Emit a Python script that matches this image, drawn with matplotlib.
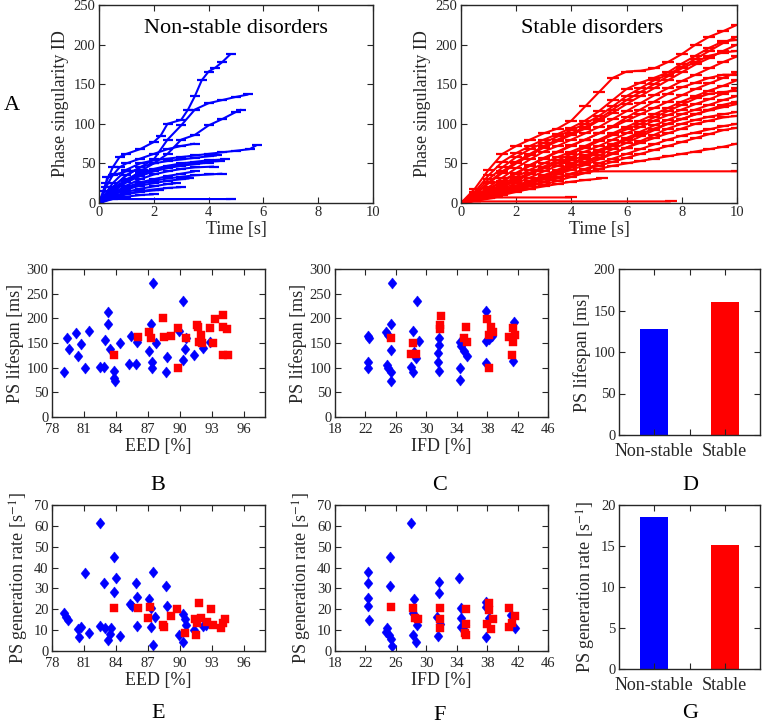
import numpy as np
import matplotlib.pyplot as plt

plt.rcParams['font.family'] = ['Liberation Serif', 'DejaVu Serif']
plt.rcParams['mathtext.fontset'] = 'stix'

BLUE = (0, 0, 1)
RED = (1, 0, 0)
FRAME = '#262626'

# ---- panel A : phase singularity ID vs time (one jagged track per run) ----
ns_t = [
    [0, 0.25, 0.5, 0.75, 1, 1.5, 2, 2.25, 2.5, 3, 3.25, 3.5, 3.75, 4, 4.25, 4.5, 4.8],
    [0, 0.5, 1, 1.5, 2, 2.5, 3, 3.5, 4, 4.5, 5, 5.45],
    [0, 0.5, 1, 1.5, 2, 2.5, 3, 3.5, 4, 4.5, 5, 5.2],
    [0, 0.5, 1, 1.5, 2, 2.5, 3, 3.5, 4, 4.5, 5, 5.5, 5.75],
    [0, 0.5, 1, 1.5, 2, 2.5, 3, 3.5, 4, 4.3],
    [0, 0.5, 1, 1.5, 2, 2.5, 3, 3.5, 4, 4.6],
    [0, 0.5, 1, 1.5, 2, 2.5, 3, 3.5, 4.2],
    [0, 0.5, 1, 1.5, 2, 2.5, 3, 3.5, 4, 4.5],
    [0, 0.5, 1, 1.5, 2, 2.5, 3, 3.3],
    [0, 0.5, 1, 1.5, 2, 2.5, 2.8],
    [0, 0.5, 1, 1.5, 2, 2.2],
    [0, 0.3, 4.8],
    [0, 0.5, 1, 1.5, 2, 2.5, 3],
    [0, 0.25, 0.5, 0.75, 1, 1.5, 2, 2.5, 3, 3.5],
    [0, 0.2, 0.3, 0.6, 1.0, 1.6],
    [0, 0.5, 1, 1.5, 2, 2.5, 3, 3.5, 4],
    [0, 0.5, 1, 1.5, 2],
    [0, 0.5, 1, 1.5, 2, 2.5, 3, 3.5],
    [0, 0.5, 1, 1.5, 2, 2.5, 3, 3.5, 4, 4.4],
]
ns_id = [
    [0, 25, 45, 58, 62, 68, 77, 85, 100, 105, 118, 135, 155, 166, 171, 178, 188],
    [0, 20, 35, 45, 55, 80, 98, 118, 126, 130, 134, 137],
    [0, 15, 28, 40, 50, 62, 80, 86, 98, 106, 115, 118],
    [0, 25, 42, 50, 54, 56, 58, 60, 62, 64, 66, 68, 73],
    [0, 20, 35, 45, 50, 53, 55, 57, 59, 60],
    [0, 18, 30, 38, 43, 47, 50, 52, 54, 55],
    [0, 12, 22, 30, 36, 40, 43, 45, 46],
    [0, 10, 18, 24, 28, 31, 33, 35, 36, 37],
    [0, 10, 17, 22, 25, 28, 30, 31],
    [0, 8, 14, 18, 21, 24, 25],
    [0, 6, 11, 14, 16, 17],
    [0, 5, 5],
    [0, 7, 12, 15, 17, 19, 20],
    [0, 20, 35, 45, 50, 56, 62, 68, 72, 75],
    [0, 15, 33, 36, 40, 42],
    [0, 14, 26, 34, 40, 44, 47, 49, 51],
    [0, 5, 8, 10, 11],
    [0, 12, 20, 26, 30, 34, 37, 40],
    [0, 16, 28, 36, 42, 46, 48, 50, 52, 53],
]

st_grid = [0, 0.5, 1, 1.5, 2, 2.5, 3, 3.5, 4, 4.5, 5, 5.5, 6, 6.5, 7, 7.5, 8, 8.5, 9, 9.5, 10]
st_grid_id = [
    [0, 18, 42, 62, 72, 80, 88, 94, 104, 122, 140, 158, 166, 167, 170, 178, 188, 200, 210, 217, 225],
    [0, 14, 35, 52, 63, 72, 80, 87, 95, 104, 116, 130, 144, 152, 158, 165, 176, 186, 196, 204, 206],
    [0, 12, 30, 45, 58, 68, 76, 84, 92, 100, 110, 122, 135, 145, 155, 162, 172, 182, 192, 202, 210],
    [0, 10, 25, 38, 50, 60, 70, 78, 86, 94, 104, 114, 125, 135, 145, 155, 165, 175, 183, 192, 200],
    [0, 10, 26, 40, 52, 62, 72, 80, 88, 96, 106, 118, 130, 140, 150, 160, 170, 178, 186, 190, 192],
    [0, 8, 20, 32, 44, 55, 65, 72, 80, 88, 96, 106, 116, 126, 136, 145, 154, 162, 170, 178, 185],
    [0, 8, 18, 28, 38, 48, 57, 65, 73, 80, 88, 96, 104, 112, 120, 128, 136, 144, 151, 158, 165],
    [0, 7, 17, 27, 37, 47, 56, 64, 72, 80, 88, 97, 108, 118, 128, 138, 146, 152, 158, 162, 162],
    [0, 6, 15, 24, 33, 42, 50, 58, 65, 72, 80, 88, 96, 104, 112, 120, 128, 135, 142, 148, 155],
    [0, 5, 12, 20, 28, 36, 44, 51, 58, 65, 72, 80, 88, 96, 104, 111, 118, 125, 131, 138, 145],
    [0, 6, 14, 22, 30, 38, 46, 54, 62, 70, 78, 86, 93, 100, 108, 116, 124, 132, 138, 140, 142],
    [0, 5, 10, 16, 22, 28, 35, 42, 50, 58, 66, 74, 82, 90, 98, 105, 112, 118, 124, 130, 135],
    [0, 5, 11, 18, 25, 32, 40, 47, 54, 60, 67, 74, 80, 87, 94, 100, 106, 112, 118, 124, 128],
    [0, 4, 9, 14, 20, 26, 32, 38, 45, 52, 60, 68, 76, 84, 92, 100, 106, 112, 117, 121, 125],
    [0, 3, 8, 13, 18, 24, 30, 36, 42, 48, 55, 62, 70, 78, 86, 94, 100, 105, 109, 112, 115],
    [0, 4, 9, 15, 21, 27, 33, 39, 45, 51, 57, 63, 70, 76, 82, 88, 94, 100, 104, 108, 110],
    [0, 3, 7, 11, 16, 21, 26, 31, 37, 43, 50, 56, 62, 68, 74, 80, 85, 89, 93, 97, 100],
    [0, 3, 7, 12, 17, 22, 27, 32, 37, 42, 47, 52, 57, 62, 67, 72, 77, 82, 87, 92, 95],
    [0, 3, 6, 10, 14, 18, 23, 28, 33, 38, 43, 47, 50, 53, 56, 59, 62, 65, 68, 71, 75],
]
st_t = [
    [0, 0.5, 1, 1.5, 2, 2.5, 3, 3.5, 4, 4.5, 4.8, 10],
    [0, 0.5, 1, 1.5, 2, 2.5, 3, 3.5, 4, 4.5, 5.1],
    [0, 1.3, 4],
    [0, 0.1, 7.6],
    [0, 0.5, 1, 1.5, 2, 2.5, 3, 3.5, 4, 4.5, 5, 5.5, 6],
    [0, 0.5, 1, 1.5, 2, 2.5, 3, 3.5, 4],
]
st_id = [
    [0, 5, 10, 15, 20, 25, 30, 33, 36, 38, 40, 40],
    [0, 4, 8, 12, 15, 18, 21, 24, 27, 29, 31],
    [0, 7, 7],
    [0, 2, 2],
    [0, 4, 10, 16, 22, 28, 34, 40, 48, 56, 64, 72, 80],
    [0, 6, 14, 22, 30, 38, 44, 50, 55],
]

# ---- panels B-G ----
b_eed_ns = [79.1, 79.4, 79.6, 80.3, 80.4, 80.7, 81.1, 81.5, 82.5, 82.9, 83.0, 83.3, 83.3,
            83.4, 83.8, 83.9, 83.8, 84.4, 85.2, 85.4, 85.9, 86.0, 87.3, 87.1, 87.5, 87.4,
            87.4, 87.8, 88.8, 88.7, 89.9, 90.3, 90.5, 90.3, 90.6, 91.3, 92.2, 92.8]
b_life_ns = [92, 161, 137, 170, 124, 148, 99, 174, 102, 102, 156, 212, 189,
             138, 93, 72, 80, 149, 108, 164, 108, 153, 189, 134, 271, 112,
             99, 149, 122, 92, 174, 235, 137, 116, 161, 126, 139, 153]
b_eed_s = [83.8, 86.1, 87.1, 87.3, 88.4, 88.5, 89.2, 89.8, 89.8, 90.6, 91.6, 91.7,
           92.0, 91.8, 92.1, 92.8, 93.1, 93.3, 94.1, 94.1, 94.4, 94.1, 94.5]
b_life_s = [126, 163, 173, 161, 200, 163, 165, 180, 99, 161, 187, 183,
            166, 153, 151, 180, 151, 198, 207, 183, 178, 126, 126]

c_ifd_ns = [22.3, 22.5, 22.3, 22.3, 24.7, 25.0, 25.4, 25.5, 25.3, 24.8, 25.0, 25.3, 25.3,
            28.2, 28.8, 29.0, 28.4, 28.7, 28.0, 28.2, 31.7, 31.7, 31.5, 31.5, 31.7,
            34.4, 34.6, 34.9, 35.3, 34.4, 34.4, 37.8, 37.8, 38.3, 38.7, 37.9, 41.5, 41.4]
c_life_ns = [165, 160, 112, 99, 173, 166, 189, 271, 136, 105, 99, 91, 72,
             175, 236, 154, 131, 120, 102, 91, 160, 146, 129, 112, 93,
             153, 143, 134, 124, 99, 74, 214, 154, 158, 165, 109, 193, 114]
c_ifd_s = [25.3, 28.2, 28.0, 28.7, 31.9, 31.8, 31.8, 35.2, 35.3, 34.9, 38.0, 38.5,
           38.8, 38.3, 38.3, 40.9, 41.4, 41.6, 41.4, 41.3]
c_life_s = [160, 151, 127, 127, 205, 187, 178, 182, 153, 161, 199, 183,
            173, 166, 99, 163, 180, 166, 153, 126]

e_eed_ns = [79.1, 79.3, 79.5, 80.4, 80.5, 80.7, 81.1, 81.5, 82.5, 82.5, 82.9, 83.0, 83.3,
            83.4, 83.5, 83.8, 83.8, 84.0, 84.4, 85.3, 85.5, 85.9, 86.0, 86.0, 87.1, 87.3,
            87.3, 87.5, 87.5, 87.7, 88.7, 88.8, 89.9, 90.3, 90.3, 90.5, 90.6, 91.3, 92.2, 92.5]
e_rate_ns = [18.4, 16.5, 14.9, 10.4, 6.9, 11.7, 37.2, 8.5, 61.5, 12.0, 32.4, 10.9, 5.3,
             8.0, 10.9, 45.2, 28.4, 35.1, 7.2, 22.5, 21.6, 32.4, 25.7, 12.0, 24.8, 20.5,
             11.3, 37.7, 2.9, 16.5, 31.2, 21.6, 7.7, 17.6, 4.5, 15.2, 12.5, 10.1, 12.0, 12.5]
e_eed_s = [83.8, 86.1, 87.0, 87.2, 88.4, 88.5, 89.2, 89.7, 90.5, 91.4, 91.5, 91.8,
           91.6, 92.0, 92.6, 92.9, 93.1, 93.9, 94.2, 94.1]
e_rate_s = [20.5, 20.5, 15.8, 20.9, 12.5, 11.3, 16.8, 20.0, 8.5, 15.2, 7.7, 22.9,
            13.3, 15.7, 14.1, 20.1, 12.5, 10.9, 15.2, 13.3]

f_ifd_ns = [22.3, 22.3, 22.4, 22.3, 22.5, 25.2, 25.2, 24.8, 24.7, 25.1, 25.4, 25.5,
            28.0, 28.4, 28.2, 28.8, 28.3, 28.6, 31.7, 31.7, 31.4, 31.8, 31.5,
            34.3, 34.5, 34.5, 34.5, 35.1, 37.8, 37.8, 37.8, 38.3, 41.2, 41.6]
f_rate_ns = [37.7, 32.4, 25.6, 21.6, 14.9, 45.2, 31.2, 10.9, 9.3, 7.7, 5.6, 2.4,
             61.5, 24.8, 18.4, 12.5, 7.7, 4.5, 32.9, 28.0, 16.5, 12.9, 7.2,
             35.2, 20.5, 15.7, 11.7, 12.5, 23.7, 21.3, 6.9, 15.7, 17.3, 10.9]
f_ifd_s = [25.3, 28.2, 28.5, 28.9, 31.8, 31.8, 31.8, 35.2, 35.2, 35.1, 35.2, 38.3,
           38.3, 38.8, 38.0, 38.5, 40.9, 41.6, 41.3, 40.9]
f_rate_s = [20.9, 20.5, 15.7, 15.2, 20.5, 15.3, 10.9, 20.1, 12.9, 8.8, 7.7, 22.9,
            19.6, 15.2, 12.9, 10.4, 20.5, 16.8, 13.6, 11.7]

groups = ['Non-stable', 'Stable']
mean_life = [128, 160]
mean_rate = [18.5, 15.1]

W, H = 762, 728
fig = plt.figure(figsize=(W / 100, H / 100), dpi=100)


def box(l, r, t, b):
    return fig.add_axes([l / W, 1 - b / H, (r - l) / W, (b - t) / H])


def style(ax):
    for s in ax.spines.values():
        s.set_color(FRAME)
        s.set_linewidth(1.0)
    ax.tick_params(direction='in', top=True, right=True, length=4, width=0.8,
                   color=FRAME, labelsize=10.5, labelcolor=FRAME, pad=2.5)


# diamond a bit taller than wide, like matlab's
diamond = [(0, 1), (0.8, 0), (0, -1), (-0.8, 0), (0, 1)]


def scatter(ax, xb, yb, xr, yr):
    ax.plot(xb, yb, ls='none', marker=diamond, ms=8, color=BLUE, mec=BLUE, mew=0.3)
    ax.plot(xr, yr, ls='none', marker='s', ms=5.5, color=RED, mec=RED, mew=0.3)


def track(ax, t, i, c, dash):
    # jagged line + short horizontal dashes (lifespans) at each knot
    ax.plot(t, i, color=c, lw=1.5, marker='_', ms=dash, mew=1.6, solid_capstyle='butt')


# A
a1 = box(99, 373, 5, 203)
for t, i in zip(ns_t, ns_id):
    track(a1, t, i, BLUE, 7)
a2 = box(461, 737, 5, 203)
for i in st_grid_id:
    track(a2, st_grid, i, RED, 9)
for t, i in zip(st_t, st_id):
    track(a2, t, i, RED, 9)
for ax, title, tx in [(a1, 'Non-stable disorders', 5.0), (a2, 'Stable disorders', 4.75)]:
    style(ax)
    ax.set_xlim(0, 10)
    ax.set_ylim(0, 250)
    ax.set_xticks(range(0, 11, 2))
    ax.set_yticks(range(0, 251, 50))
    ax.set_xlabel('Time [s]', fontsize=13, color=FRAME, labelpad=1)
    ax.set_ylabel('Phase singularity ID', fontsize=13, color=FRAME, labelpad=3)
    ax.text(tx, 220, title, fontsize=16, ha='center', va='center')

# B, C, E, F scatter
axB = box(52, 265, 269, 417)
scatter(axB, b_eed_ns, b_life_ns, b_eed_s, b_life_s)
axC = box(335, 548, 269, 417)
scatter(axC, c_ifd_ns, c_life_ns, c_ifd_s, c_life_s)
axE = box(52, 265, 505, 651)
scatter(axE, e_eed_ns, e_rate_ns, e_eed_s, e_rate_s)
axF = box(335, 548, 505, 651)
scatter(axF, f_ifd_ns, f_rate_ns, f_ifd_s, f_rate_s)

for ax in (axB, axE):
    ax.set_xlim(78, 98)
    ax.set_xticks(range(78, 97, 3))
    ax.set_xlabel('EED [%]', fontsize=13, color=FRAME, labelpad=2)
for ax in (axC, axF):
    ax.set_xlim(18, 46)
    ax.set_xticks(range(18, 47, 4))
    ax.set_xlabel('IFD [%]', fontsize=13, color=FRAME, labelpad=2)
for ax in (axB, axC):
    ax.set_ylim(0, 300)
    ax.set_yticks(range(0, 301, 50))
    ax.set_ylabel('PS lifespan [ms]', fontsize=13, color=FRAME, labelpad=2)
for ax in (axE, axF):
    ax.set_ylim(0, 70)
    ax.set_yticks(range(0, 71, 10))
    ax.set_ylabel('PS generation rate [s$^{-1}$]', fontsize=13, color=FRAME, labelpad=2)
for ax in (axB, axC, axE, axF):
    style(ax)
    ax.tick_params(axis='x', pad=4)

# D, G bars
axD = box(619, 760, 269, 435)
axG = box(619, 760, 505, 669)
for ax, vals in [(axD, mean_life), (axG, mean_rate)]:
    ax.bar([1, 2], vals, width=0.4, color=[BLUE, RED])
    ax.set_xlim(0.5, 2.5)
    style(ax)
    ax.set_xticks([1, 1.5, 2])
    ax.set_xticklabels([groups[0], '', groups[1]], fontsize=13)
    ax.tick_params(axis='x', pad=6)
axD.set_ylim(0, 200)
axD.set_yticks(range(0, 201, 50))
axD.set_ylabel('PS lifespan [ms]', fontsize=13, color=FRAME, labelpad=2)
axG.set_ylim(0, 20)
axG.set_yticks(range(0, 21, 5))
axG.set_ylabel('PS generation rate [s$^{-1}$]', fontsize=13, color=FRAME, labelpad=2)

# panel letters
for letter, x, y in [('A', 12, 106), ('B', 158, 486), ('C', 440, 485), ('D', 690, 485),
                     ('E', 158, 714), ('F', 440, 716), ('G', 690, 714)]:
    fig.text(x / W, 1 - y / H, letter, fontsize=16, ha='center', va='center')

fig.savefig('out.png', dpi=100)
